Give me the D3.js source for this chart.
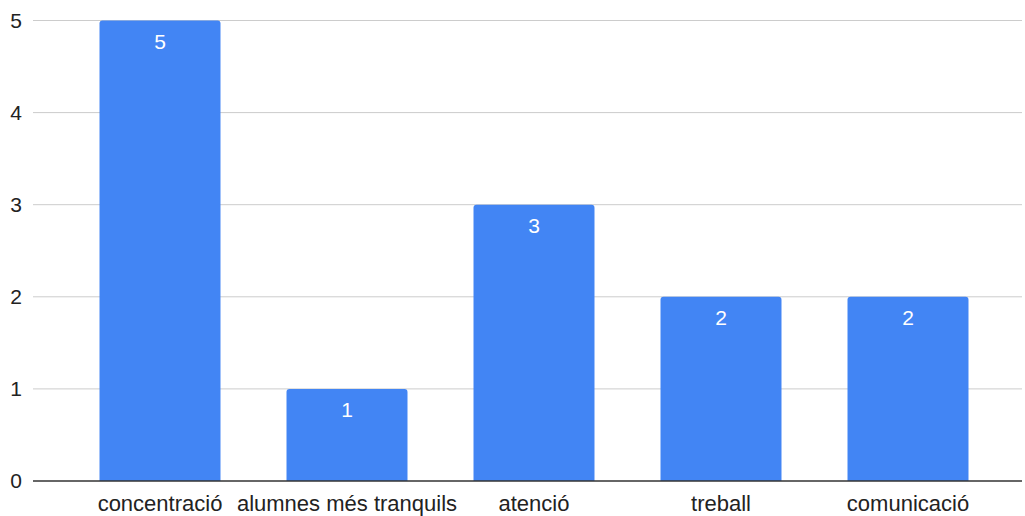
<!DOCTYPE html>
<html>
<head>
<meta charset="utf-8">
<script src="https://cdn.jsdelivr.net/npm/d3@7"></script>
<style>
  body { margin: 0; background: #fff; }
  svg { display: block; font-family: "Liberation Sans", Arial, sans-serif; }
</style>
</head>
<body>
<svg width="1025" height="516"></svg>
<script>
const categories = ['concentració', 'alumnes més tranquils', 'atenció', 'treball', 'comunicació'];
const values = [5, 1, 3, 2, 2];
const yTicks = [0, 1, 2, 3, 4, 5];

const svg = d3.select('svg');
const gridLeft = 33;
const gridRight = 1022;

const x = d3.scaleBand()
  .domain(categories)
  .range([66.5, 1001.5])
  .paddingInner(0.353)
  .paddingOuter(0.1765);

const y = d3.scaleLinear()
  .domain([0, 5])
  .range([481, 20.5]);

// gridlines
svg.append('g')
  .selectAll('line')
  .data(yTicks.filter(d => d !== 0))
  .join('line')
  .attr('x1', gridLeft)
  .attr('x2', gridRight)
  .attr('y1', d => y(d))
  .attr('y2', d => y(d))
  .attr('stroke', '#cccccc')
  .attr('stroke-width', 1);

// y tick labels
svg.append('g')
  .selectAll('text')
  .data(yTicks)
  .join('text')
  .attr('x', 22)
  .attr('y', d => y(d))
  .attr('dy', '0.35em')
  .attr('text-anchor', 'end')
  .attr('font-size', 21)
  .attr('fill', '#222')
  .text(d => d);

// bars with rounded top corners
const r = 3;
function barPath(d, i) {
  const x0 = x(categories[i]);
  const w = x.bandwidth();
  const top = y(d);
  const bottom = y(0);
  return `M${x0},${bottom}V${top + r}Q${x0},${top} ${x0 + r},${top}` +
    `H${x0 + w - r}Q${x0 + w},${top} ${x0 + w},${top + r}V${bottom}Z`;
}

svg.append('g')
  .selectAll('path')
  .data(values)
  .join('path')
  .attr('d', barPath)
  .attr('fill', '#4285f4');

// value labels
svg.append('g')
  .selectAll('text')
  .data(values)
  .join('text')
  .attr('x', (d, i) => x(categories[i]) + x.bandwidth() / 2)
  .attr('y', d => y(d) + 28)
  .attr('text-anchor', 'middle')
  .attr('font-size', 21)
  .attr('fill', '#ffffff')
  .text(d => d);

// baseline
svg.append('line')
  .attr('x1', gridLeft)
  .attr('x2', gridRight)
  .attr('y1', y(0))
  .attr('y2', y(0))
  .attr('stroke', '#333333')
  .attr('stroke-width', 1.5);

// x labels
svg.append('g')
  .selectAll('text')
  .data(categories)
  .join('text')
  .attr('x', d => x(d) + x.bandwidth() / 2)
  .attr('y', 511)
  .attr('text-anchor', 'middle')
  .attr('font-size', 22)
  .attr('fill', '#222')
  .text(d => d);
</script>
</body>
</html>
